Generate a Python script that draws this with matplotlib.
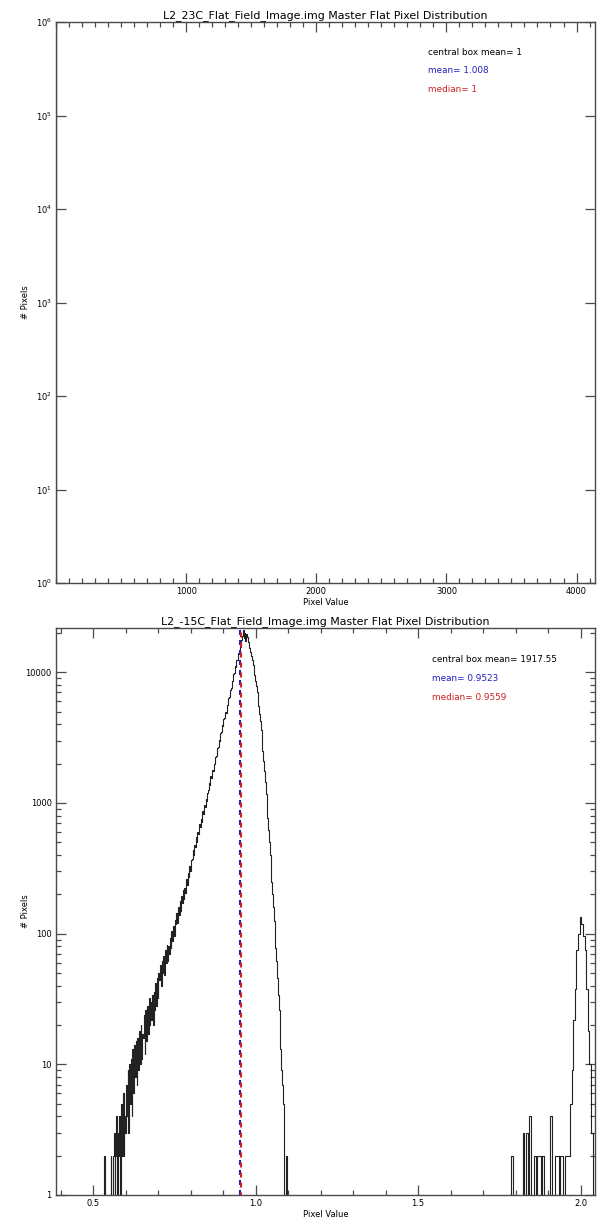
import numpy as np
import matplotlib
import matplotlib.pyplot as plt
from matplotlib.ticker import FixedLocator, MultipleLocator, LogLocator, NullFormatter, FixedFormatter

matplotlib.use('Agg')

# 23C master flat: every pixel falls in the first bin of the 0..4096 histogram
top_centers = [0.0, 1.0, 2.0]
top_counts = [0, 1048576, 0]
top_central_mean = '1'
top_mean = 1.008
top_median = 1.0

# -15C master flat, bin width 0.0025, one row = 0.025 in pixel value
low_start = 0.5300
low_counts = [
    0, 0, 2, 0, 0, 0, 0, 0, 1, 0,                                   # 0.530
    2, 0, 1, 2, 3, 1, 2, 4, 1, 3,                                   # 0.555
    2, 4, 1, 5, 2, 6, 2, 4, 3, 7,                                   # 0.580
    4, 9, 3, 10, 5, 11, 4, 13, 6, 14,                               # 0.605
    8, 15, 7, 16, 9, 18, 10, 20, 11, 17,                            # 0.630
    16, 24, 12, 26, 15, 28, 17, 32, 20, 30,                         # 0.655
    22, 34, 20, 36, 26, 42, 28, 46, 32, 50,                         # 0.680
    44, 58, 40, 62, 50, 68, 48, 75, 60, 82,                         # 0.705
    62, 80, 70, 92, 78, 104, 88, 115, 96, 128,                      # 0.730
    118, 145, 120, 160, 138, 178, 150, 195, 170, 215,               # 0.755
    185, 225, 205, 260, 235, 290, 270, 330, 300, 365,               # 0.780
    370, 440, 400, 480, 460, 550, 500, 600, 580, 690,               # 0.805
    650, 760, 720, 860, 820, 960, 930, 1080, 1040, 1200,            # 0.830
    1250, 1430, 1380, 1600, 1560, 1800, 1740, 2000, 1980, 2250,     # 0.855
    2300, 2650, 2700, 3050, 3000, 3450, 3500, 3950, 3850, 4350,     # 0.880
    4500, 5000, 4900, 5600, 5800, 6400, 6500, 7300, 7600, 8300,     # 0.905
    8500, 9700, 9900, 11200, 11000, 12500, 12400, 14000, 13800, 15600,  # 0.930
    16000, 17600, 18800, 20900, 18400, 19800, 17400, 19600, 18600, 17000,  # 0.955
    16000, 15200, 14400, 13200, 12300, 11400, 10400, 9500, 8600, 7800,  # 0.980
    7000, 6200, 5500, 4800, 4200, 3600, 3000, 2500, 2100, 1750,     # 1.005
    1450, 1180, 950, 770, 620, 500, 400, 315, 250, 200,             # 1.030
    160, 125, 100, 78, 62, 46, 34, 26, 19, 13,                      # 1.055
    9, 7, 5, 4, 0, 0, 2, 0, 0, 0,                                   # 1.080
]

high_start = 1.780
high_counts = [
    0, 0, 2, 0, 0, 0, 0, 0, 0, 3,
    0, 3, 1, 4, 0, 0, 2, 1, 2, 2,
    1, 2, 0, 0, 0, 1, 4, 0, 1, 2,
    2, 1, 2, 2, 1, 2, 2, 2, 5, 9,
    22, 38, 75, 100, 134, 118, 96, 75, 38, 18,
    10, 3, 1, 0,
]
low_width = 0.0025
high_width = 0.005

bot_central_mean = '1917.55'
bot_mean = 0.9523
bot_median = 0.9559

line_color = '#222222'
spine_color = '#4a4a4a'
blue = '#2020c0'
red = '#d02020'

fig = plt.figure(figsize=(6.01, 12.23), dpi=100)
ax1 = fig.add_axes([56 / 601, 1 - 583 / 1223, 539 / 601, 561 / 1223])
ax2 = fig.add_axes([56 / 601, 1 - 1195 / 1223, 539 / 601, 567 / 1223])


def style_axes(ax):
    for s in ax.spines.values():
        s.set_color(spine_color)
        s.set_linewidth(1.0)
    ax.tick_params(which='both', direction='in', top=True, right=True,
                   color=spine_color, labelsize=6, pad=3, width=0.9)
    ax.tick_params(which='major', length=7.5)
    ax.tick_params(which='minor', length=3.8, labelleft=False, labelbottom=False)
    ax.yaxis.set_label_coords(-0.048, 0.5)


# top panel
ax1.plot(top_centers, top_counts, drawstyle='steps-mid', color=line_color, lw=0.8)
ax1.axvline(top_mean, color=blue, lw=1.2, ls=(0, (2.5, 2.5)))
ax1.axvline(top_median, color=red, lw=1.2, ls=(1.2, (2.5, 2.5)))
ax1.set_yscale('log')
ax1.set_xlim(0, 4142)
ax1.set_ylim(1, 1e6)
ax1.xaxis.set_major_locator(FixedLocator([1000, 2000, 3000, 4000]))
ax1.xaxis.set_minor_locator(MultipleLocator(100))
ax1.yaxis.set_major_locator(LogLocator(base=10, numticks=10))
ax1.yaxis.set_minor_locator(FixedLocator([]))
ax1.yaxis.set_minor_formatter(NullFormatter())
style_axes(ax1)
ax1.set_title('L2_23C_Flat_Field_Image.img Master Flat Pixel Distribution',
              fontsize=7.9, pad=3)
ax1.set_xlabel('Pixel Value', fontsize=6, labelpad=1)
ax1.set_ylabel('# Pixels', fontsize=6)
ax1.text(0.69, 0.946, 'central box mean= ' + top_central_mean, transform=ax1.transAxes,
         fontsize=6.4, color='black', va='center')
ax1.text(0.69, 0.913, f'mean= {top_mean:g}', transform=ax1.transAxes,
         fontsize=6.4, color=blue, va='center')
ax1.text(0.69, 0.880, f'median= {top_median:g}', transform=ax1.transAxes,
         fontsize=6.4, color=red, va='center')

# bottom panel
low_x = low_start + low_width * np.arange(len(low_counts))
high_x = high_start + high_width * np.arange(len(high_counts))
ax2.plot(low_x, low_counts, drawstyle='steps-mid', color=line_color, lw=0.8)
ax2.plot(high_x, high_counts, drawstyle='steps-mid', color=line_color, lw=0.8)
ax2.axvline(bot_mean, color=blue, lw=1.5, ls=(0, (2.4, 2.4)))
ax2.axvline(bot_median, color=red, lw=1.5, ls=(1.2, (2.4, 2.4)))
ax2.set_yscale('log')
ax2.set_xlim(0.386, 2.0445)
ax2.set_ylim(1, 21800)
ax2.xaxis.set_major_locator(FixedLocator([0.5, 1.0, 1.5, 2.0]))
ax2.xaxis.set_major_formatter(FixedFormatter(['0.5', '1.0', '1.5', '2.0']))
ax2.xaxis.set_minor_locator(MultipleLocator(0.1))
ax2.yaxis.set_major_locator(FixedLocator([1, 10, 100, 1000, 10000]))
ax2.yaxis.set_major_formatter(FixedFormatter(['1', '10', '100', '1000', '10000']))
ax2.yaxis.set_minor_locator(LogLocator(base=10, subs=np.arange(2, 10), numticks=20))
ax2.yaxis.set_minor_formatter(NullFormatter())
style_axes(ax2)
ax2.set_title('L2_-15C_Flat_Field_Image.img Master Flat Pixel Distribution',
              fontsize=7.9, pad=3)
ax2.set_xlabel('Pixel Value', fontsize=6, labelpad=1)
ax2.set_ylabel('# Pixels', fontsize=6)
ax2.text(0.698, 0.9436, 'central box mean= ' + bot_central_mean, transform=ax2.transAxes,
         fontsize=6.4, color='black', va='center')
ax2.text(0.698, 0.911, f'mean= {bot_mean:g}', transform=ax2.transAxes,
         fontsize=6.4, color=blue, va='center')
ax2.text(0.698, 0.878, f'median= {bot_median:g}', transform=ax2.transAxes,
         fontsize=6.4, color=red, va='center')

plt.savefig('out.png', dpi=100)
